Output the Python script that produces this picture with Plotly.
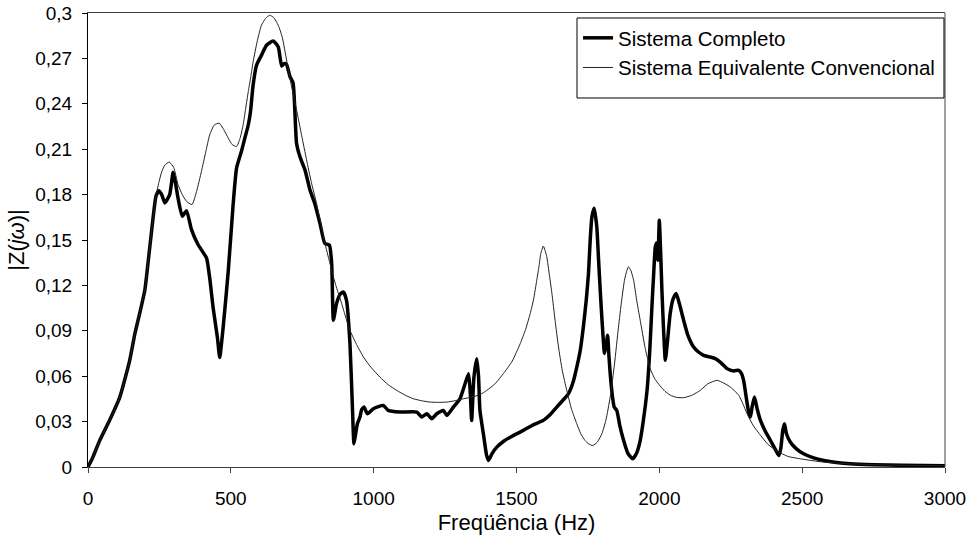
import plotly.graph_objects as go

# ---- Data ----
freq_completo = [0, 17, 41, 76, 111, 146, 164, 181, 199, 212, 225, 238, 248, 258, 269, 286, 298, 306, 315, 330,
                 345, 362, 385, 415, 426, 438, 453, 461, 473, 491, 508, 520, 537, 549, 561, 569, 578, 590, 607, 625,
                 648, 666, 678, 686, 695, 707, 718, 730, 742, 760, 777, 794, 812, 829, 845, 853, 859, 870, 882, 894,
                 905, 917, 926, 931, 937, 943, 952, 958, 966, 978, 999, 1034, 1051, 1092, 1151, 1168, 1186, 1203, 1221, 1244,
                 1256, 1279, 1302, 1320, 1332, 1338, 1343, 1351, 1361, 1367, 1372, 1384, 1395, 1402, 1415, 1431, 1455, 1478, 1524, 1560,
                 1594, 1620, 1641, 1662, 1682, 1698, 1711, 1724, 1734, 1744, 1752, 1758, 1764, 1772, 1781, 1787, 1793, 1800, 1808, 1813,
                 1819, 1823, 1828, 1835, 1842, 1851, 1862, 1875, 1890, 1907, 1920, 1933, 1945, 1957, 1966, 1974, 1980, 1986, 1991, 1995,
                 2000, 2004, 2009, 2015, 2021, 2028, 2038, 2048, 2059, 2070, 2085, 2100, 2120, 2137, 2155, 2175, 2196, 2215, 2237, 2260,
                 2278, 2287, 2295, 2305, 2313, 2319, 2325, 2333, 2343, 2354, 2370, 2389, 2405, 2418, 2425, 2432, 2438, 2445, 2459, 2480,
                 2505, 2540, 2576, 2620, 2669, 2750, 2850, 3000]
z_completo = [0, 0.0065, 0.0175, 0.031, 0.046, 0.0705, 0.088, 0.1016, 0.117, 0.138, 0.160, 0.179, 0.1826, 0.180, 0.1745, 0.180, 0.1947, 0.188, 0.1778, 0.1657,
              0.1694, 0.157, 0.147, 0.138, 0.125, 0.1053, 0.0856, 0.0724, 0.092, 0.1295, 0.1734, 0.1975, 0.2085, 0.2173, 0.226, 0.235, 0.2524, 0.2655, 0.272, 0.2787,
              0.2815, 0.2776, 0.265, 0.2665, 0.266, 0.258, 0.2537, 0.214, 0.205, 0.196, 0.183, 0.174, 0.161, 0.1478, 0.1466, 0.1345, 0.097, 0.108, 0.114, 0.1157,
              0.110, 0.0816, 0.0374, 0.0154, 0.022, 0.0286, 0.033, 0.038, 0.0396, 0.0352, 0.0385, 0.0407, 0.0374, 0.0363, 0.0363, 0.033, 0.0352, 0.0319, 0.0352, 0.0374,
              0.034, 0.0396, 0.045, 0.055, 0.0617, 0.050, 0.0308, 0.0594, 0.0716, 0.060, 0.0374, 0.022, 0.008, 0.0043, 0.009, 0.0131, 0.017, 0.0197, 0.0242, 0.028,
              0.0308, 0.035, 0.0396, 0.044, 0.0485, 0.056, 0.066, 0.078, 0.0925, 0.110, 0.128, 0.150, 0.1654, 0.171, 0.1588, 0.138, 0.117, 0.095, 0.075, 0.080,
              0.087, 0.075, 0.0617, 0.048, 0.0396, 0.0374, 0.027, 0.0175, 0.009, 0.0054, 0.009, 0.0175, 0.032, 0.0506, 0.075, 0.1058, 0.127, 0.1455, 0.148, 0.1367,
              0.163, 0.145, 0.117, 0.090, 0.0705, 0.082, 0.1014, 0.111, 0.1146, 0.108, 0.097, 0.087, 0.0793, 0.076, 0.0738, 0.0728, 0.0716, 0.069, 0.065, 0.0635,
              0.0639, 0.062, 0.0573, 0.045, 0.036, 0.033, 0.040, 0.0462, 0.038, 0.0308, 0.024, 0.0175, 0.012, 0.0076, 0.012, 0.024, 0.0286, 0.022, 0.0164, 0.012,
              0.0087, 0.006, 0.0043, 0.003, 0.0021, 0.0015, 0.0011, 0.0008]

freq_equivalente = [0, 17, 41, 76, 111, 146, 164, 181, 199, 212, 225, 238, 248, 258, 269, 284, 300, 315, 330, 345,
                    364, 380, 397, 412, 426, 442, 459, 475, 491, 505, 520, 532, 543, 552, 561, 570, 578, 592, 607, 622,
                    636, 650, 666, 680, 695, 712, 730, 748, 765, 782, 800, 815, 829, 845, 859, 874, 888, 902, 917, 940,
                    964, 990, 1022, 1050, 1081, 1110, 1139, 1170, 1197, 1226, 1256, 1285, 1314, 1343, 1372, 1396, 1425, 1454, 1485, 1513,
                    1532, 1548, 1560, 1571, 1579, 1585, 1594, 1600, 1606, 1615, 1624, 1635, 1647, 1660, 1676, 1693, 1711, 1725, 1740, 1753,
                    1767, 1783, 1799, 1813, 1828, 1843, 1857, 1868, 1878, 1885, 1892, 1900, 1910, 1920, 1933, 1950, 1968, 1985, 2003, 2020,
                    2038, 2060, 2085, 2115, 2143, 2170, 2202, 2225, 2249, 2265, 2278, 2292, 2307, 2330, 2354, 2380, 2412, 2450, 2494, 2576,
                    2669, 2800, 3000]
z_equivalente = [0, 0.0065, 0.0175, 0.031, 0.046, 0.0705, 0.088, 0.1016, 0.117, 0.138, 0.160, 0.179, 0.188, 0.195, 0.1995, 0.2015, 0.198, 0.1866, 0.180, 0.1755,
                 0.1734, 0.182, 0.1953, 0.208, 0.2195, 0.226, 0.2272, 0.223, 0.2173, 0.213, 0.2118, 0.217, 0.226, 0.237, 0.248, 0.258, 0.2677, 0.281, 0.2919, 0.2965,
                 0.2985, 0.297, 0.2919, 0.2840, 0.269, 0.252, 0.236, 0.219, 0.203, 0.188, 0.1742, 0.161, 0.148, 0.136, 0.1256, 0.116, 0.108, 0.099, 0.0904, 0.081,
                 0.0727, 0.066, 0.0594, 0.0545, 0.0506, 0.0475, 0.0451, 0.0437, 0.0429, 0.0427, 0.0429, 0.0438, 0.0451, 0.0462, 0.0478, 0.0506, 0.055, 0.0617, 0.070, 0.0815,
                 0.091, 0.1014, 0.111, 0.1235, 0.133, 0.141, 0.146, 0.143, 0.139, 0.127, 0.1147, 0.097, 0.0793, 0.064, 0.0506, 0.038, 0.0286, 0.022, 0.0175, 0.0152,
                 0.0142, 0.0165, 0.022, 0.031, 0.0462, 0.068, 0.0925, 0.110, 0.1235, 0.129, 0.1323, 0.130, 0.1235, 0.111, 0.097, 0.079, 0.065, 0.058, 0.0535, 0.050,
                 0.0475, 0.046, 0.0458, 0.0475, 0.0506, 0.055, 0.0573, 0.0555, 0.0528, 0.050, 0.0475, 0.042, 0.0352, 0.027, 0.021, 0.015, 0.0105, 0.007, 0.0054, 0.0032,
                 0.0021, 0.0013, 0.0008]

x_ticks = [0, 500, 1000, 1500, 2000, 2500, 3000]
y_ticks = [0, 0.03, 0.06, 0.09, 0.12, 0.15, 0.18, 0.21, 0.24, 0.27, 0.3]
y_tick_labels = ["0", "0,03", "0,06", "0,09", "0,12", "0,15", "0,18", "0,21", "0,24", "0,27", "0,3"]

FONT = "Liberation Sans, Arial, sans-serif"

fig = go.Figure()
fig.add_trace(go.Scatter(
    x=freq_completo, y=z_completo, mode="lines", name="Sistema Completo",
    line=dict(color="#000000", width=3.5, shape="spline", smoothing=0.5),
    legendgroup="a",
))
fig.add_trace(go.Scatter(
    x=freq_equivalente, y=z_equivalente, mode="lines", name="Sistema Equivalente Convencional",
    line=dict(color="#222222", width=1, shape="spline", smoothing=0.5),
    legendgroup="b",
))

fig.update_layout(
    width=971, height=543,
    margin=dict(l=88, r=26, t=13, b=76, autoexpand=False),
    paper_bgcolor="white", plot_bgcolor="white",
    font=dict(family=FONT, size=19, color="black"),
    showlegend=True,
    legend=dict(
        x=0.5718, xanchor="left", y=0.989, yanchor="top",
        bgcolor="rgba(0,0,0,0)", borderwidth=0,
        font=dict(family=FONT, size=20.5, color="black"),
        traceorder="grouped", tracegroupgap=0,
    ),
    xaxis=dict(
        range=[0, 3000], tickvals=x_ticks, ticks="outside", ticklen=5, tickcolor="#404040",
        showline=True, linecolor="#404040", linewidth=1, mirror=True,
        showgrid=False, zeroline=False, ticklabelstandoff=9, automargin=False,
        tickfont=dict(family=FONT, size=19),
        title=dict(text="Freqüência (Hz)", standoff=6, font=dict(family=FONT, size=22)),
    ),
    yaxis=dict(
        range=[0, 0.3], tickvals=y_ticks, ticktext=y_tick_labels, ticks="outside", ticklen=5,
        tickcolor="black", showline=True, linecolor="black", linewidth=1, mirror=False,
        showgrid=False, zeroline=False, ticklabelstandoff=6, automargin=False,
        tickfont=dict(family=FONT, size=19),
        title=dict(text="|Z(<i>jω</i>)|", standoff=4, font=dict(family=FONT, size=22)),
    ),
    shapes=[
        # right frame line of the plot area
        dict(type="line", xref="paper", yref="paper", x0=1, x1=1, y0=0, y1=1,
             line=dict(color="#404040", width=1)),
        # legend frame
        dict(type="rect", xref="paper", yref="paper", x0=0.5706, x1=0.9988, y0=0.8128, y1=0.989,
             line=dict(color="black", width=1), fillcolor="white", layer="above"),
    ],
)

# remove the browser's default 8px body margin so the figure fills the window exactly
fig.write_html("out.html", config={"displayModeBar": False},
               post_script="document.body.style.margin='0px';")
